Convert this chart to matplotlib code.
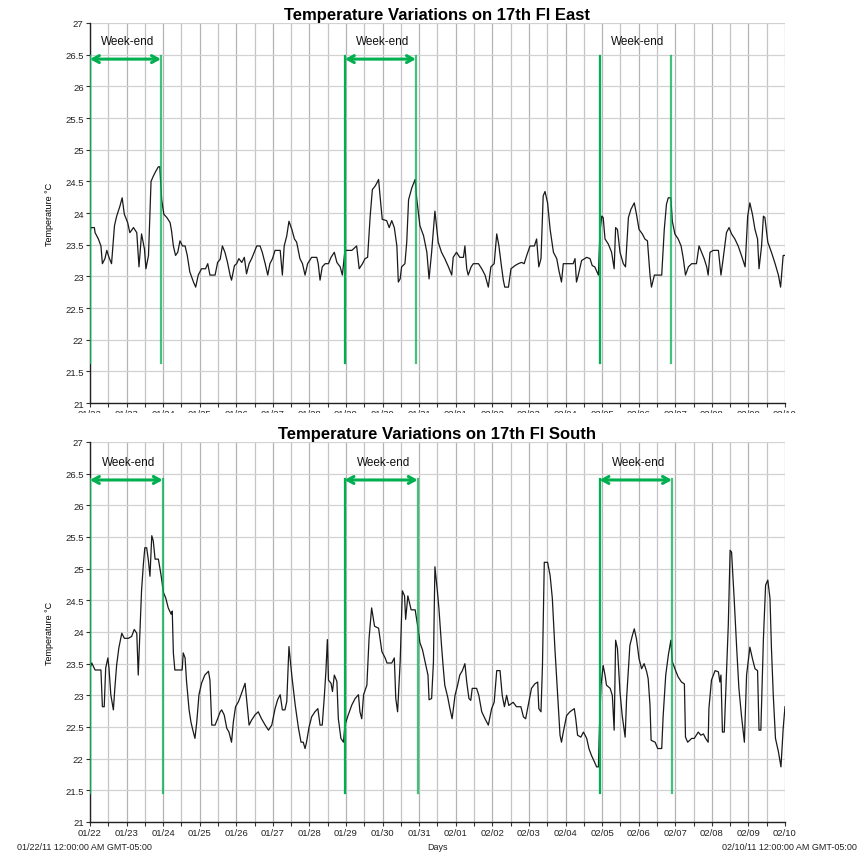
import matplotlib
matplotlib.use("Agg")
import matplotlib.pyplot as plt
from matplotlib.patches import Rectangle
from matplotlib.ticker import MultipleLocator

plt.rcParams['font.family'] = ['Liberation Sans', 'DejaVu Sans']

# ---- data -----------------------------------------------------------------
day_labels = ['01/22', '01/23', '01/24', '01/25', '01/26', '01/27', '01/28',
              '01/29', '01/30', '01/31', '02/01', '02/02', '02/03', '02/04',
              '02/05', '02/06', '02/07', '02/08', '02/09', '02/10']

# days elapsed since 01/22 00:00 and readings in degrees C, 17th floor east
east_days = [
    0.00, 0.02, 0.12, 0.14, 0.23, 0.30, 0.34, 0.41, 0.46, 0.52, 0.59, 0.67, 0.73, 0.82, 0.88, 0.94,
    1.03, 1.09, 1.19, 1.28, 1.34, 1.41, 1.49, 1.53, 1.60, 1.67, 1.73, 1.80, 1.87, 1.91, 1.96, 2.02,
    2.10, 2.19, 2.23, 2.28, 2.34, 2.40, 2.46, 2.53, 2.60, 2.66, 2.73, 2.83, 2.89, 2.96, 3.05, 3.16,
    3.22, 3.28, 3.42, 3.49, 3.56, 3.62, 3.69, 3.76, 3.83, 3.87, 3.95, 4.01, 4.07, 4.15, 4.22, 4.28,
    4.35, 4.42, 4.49, 4.56, 4.65, 4.71, 4.79, 4.86, 4.92, 4.99, 5.06, 5.20, 5.26, 5.31, 5.38, 5.44,
    5.52, 5.59, 5.65, 5.74, 5.81, 5.88, 5.95, 6.06, 6.20, 6.24, 6.29, 6.35, 6.43, 6.52, 6.59, 6.68,
    6.75, 6.84, 6.90, 6.97, 7.16, 7.29, 7.36, 7.45, 7.52, 7.59, 7.66, 7.72, 7.79, 7.84, 7.89, 7.93,
    7.99, 8.11, 8.18, 8.25, 8.32, 8.39, 8.43, 8.48, 8.52, 8.61, 8.66, 8.71, 8.80, 8.89, 8.93, 9.02,
    9.12, 9.21, 9.27, 9.34, 9.43, 9.52, 9.61, 9.70, 9.80, 9.89, 9.93, 10.02, 10.11, 10.21, 10.25, 10.30,
    10.34, 10.42, 10.48, 10.62, 10.71, 10.80, 10.89, 10.96, 11.05, 11.12, 11.18, 11.24, 11.30, 11.34, 11.44, 11.51,
    11.62, 11.71, 11.80, 11.87, 11.94, 12.03, 12.15, 12.21, 12.27, 12.33, 12.39, 12.44, 12.51, 12.58, 12.67, 12.76,
    12.82, 12.89, 12.94, 13.08, 13.21, 13.26, 13.30, 13.35, 13.44, 13.58, 13.67, 13.73, 13.80, 13.90, 13.94, 13.99,
    14.03, 14.08, 14.17, 14.26, 14.33, 14.37, 14.42, 14.49, 14.58, 14.64, 14.72, 14.79, 14.88, 14.94, 15.01, 15.10,
    15.17, 15.24, 15.31, 15.35, 15.43, 15.63, 15.70, 15.76, 15.81, 15.88, 15.92, 15.99, 16.08, 16.16, 16.22, 16.28,
    16.36, 16.45, 16.58, 16.65, 16.72, 16.79, 16.86, 16.90, 16.95, 17.04, 17.18, 17.25, 17.31, 17.40, 17.47, 17.54,
    17.63, 17.72, 17.81, 17.91, 17.98, 18.04, 18.11, 18.18, 18.25, 18.29, 18.36, 18.41, 18.45, 18.53, 18.63, 18.73,
    18.82, 18.88, 18.95, 19.00]
east_temps = [
    23.65, 23.77, 23.77, 23.69, 23.59, 23.48, 23.20, 23.28, 23.41, 23.30, 23.20, 23.80, 23.95, 24.11, 24.24, 23.98,
    23.85, 23.69, 23.77, 23.69, 23.15, 23.67, 23.43, 23.12, 23.33, 24.50, 24.58, 24.66, 24.73, 24.73, 24.21, 23.98,
    23.93, 23.85, 23.72, 23.48, 23.33, 23.38, 23.56, 23.48, 23.48, 23.33, 23.07, 22.91, 22.83, 23.02, 23.12, 23.12,
    23.20, 23.02, 23.02, 23.22, 23.27, 23.48, 23.38, 23.22, 23.02, 22.94, 23.17, 23.20, 23.28, 23.22, 23.30, 23.04,
    23.20, 23.28, 23.38, 23.48, 23.48, 23.38, 23.20, 23.02, 23.20, 23.28, 23.41, 23.41, 23.02, 23.48, 23.64, 23.87,
    23.74, 23.59, 23.54, 23.28, 23.20, 23.02, 23.20, 23.30, 23.30, 23.20, 22.94, 23.15, 23.20, 23.20, 23.30, 23.38,
    23.22, 23.15, 23.02, 23.41, 23.41, 23.48, 23.12, 23.20, 23.28, 23.30, 23.95, 24.37, 24.42, 24.47, 24.53, 24.27,
    23.90, 23.88, 23.77, 23.88, 23.77, 23.48, 22.91, 22.96, 23.15, 23.20, 23.54, 24.21, 24.40, 24.53, 24.24, 23.80,
    23.64, 23.38, 22.96, 23.38, 24.03, 23.54, 23.38, 23.28, 23.15, 23.02, 23.30, 23.38, 23.30, 23.30, 23.48, 23.12,
    23.02, 23.15, 23.20, 23.20, 23.12, 23.02, 22.83, 23.15, 23.20, 23.67, 23.48, 23.20, 22.94, 22.83, 22.83, 23.12,
    23.17, 23.20, 23.22, 23.20, 23.33, 23.48, 23.48, 23.59, 23.15, 23.28, 24.27, 24.34, 24.16, 23.74, 23.38, 23.28,
    23.09, 22.91, 23.20, 23.20, 23.20, 23.28, 22.91, 23.02, 23.25, 23.30, 23.28, 23.17, 23.15, 23.02, 23.69, 23.95,
    23.93, 23.59, 23.51, 23.38, 23.12, 23.77, 23.74, 23.38, 23.20, 23.15, 23.93, 24.06, 24.16, 23.98, 23.74, 23.67,
    23.59, 23.56, 23.02, 22.83, 23.02, 23.02, 23.74, 24.14, 24.24, 24.24, 23.87, 23.67, 23.59, 23.48, 23.28, 23.02,
    23.15, 23.20, 23.20, 23.48, 23.38, 23.28, 23.15, 23.02, 23.38, 23.41, 23.41, 23.02, 23.28, 23.69, 23.77, 23.67,
    23.59, 23.48, 23.33, 23.15, 23.95, 24.16, 23.98, 23.74, 23.59, 23.12, 23.48, 23.95, 23.93, 23.54, 23.38, 23.20,
    23.02, 22.83, 23.33, 23.33]

# days elapsed since 01/22 00:00 and readings in degrees C, 17th floor south
south_days = [
    0.00, 0.05, 0.14, 0.30, 0.34, 0.39, 0.43, 0.49, 0.52, 0.57, 0.64, 0.68, 0.73, 0.79, 0.87, 0.94,
    1.05, 1.14, 1.21, 1.28, 1.32, 1.37, 1.41, 1.46, 1.50, 1.55, 1.60, 1.64, 1.69, 1.73, 1.78, 1.87,
    1.94, 2.01, 2.07, 2.14, 2.22, 2.25, 2.28, 2.32, 2.46, 2.52, 2.55, 2.60, 2.64, 2.71, 2.76, 2.80,
    2.87, 2.92, 2.98, 3.05, 3.14, 3.24, 3.28, 3.33, 3.42, 3.49, 3.56, 3.60, 3.67, 3.74, 3.80, 3.87,
    3.92, 3.98, 4.06, 4.13, 4.19, 4.24, 4.28, 4.35, 4.42, 4.51, 4.60, 4.69, 4.79, 4.88, 4.97, 5.06,
    5.13, 5.20, 5.26, 5.33, 5.38, 5.44, 5.52, 5.61, 5.70, 5.77, 5.83, 5.88, 5.92, 5.99, 6.06, 6.15,
    6.23, 6.29, 6.35, 6.41, 6.45, 6.49, 6.52, 6.59, 6.63, 6.68, 6.75, 6.79, 6.86, 6.93, 6.97, 7.06,
    7.16, 7.25, 7.34, 7.38, 7.43, 7.48, 7.57, 7.63, 7.70, 7.78, 7.89, 7.98, 8.07, 8.12, 8.25, 8.32,
    8.36, 8.41, 8.48, 8.54, 8.60, 8.63, 8.69, 8.78, 8.89, 8.96, 9.02, 9.09, 9.16, 9.24, 9.27, 9.34,
    9.39, 9.43, 9.50, 9.54, 9.61, 9.66, 9.70, 9.78, 9.84, 9.90, 9.98, 10.05, 10.11, 10.18, 10.25, 10.30,
    10.36, 10.41, 10.45, 10.57, 10.63, 10.71, 10.80, 10.89, 10.98, 11.05, 11.12, 11.21, 11.27, 11.33, 11.39, 11.45,
    11.57, 11.66, 11.78, 11.85, 11.91, 11.98, 12.07, 12.16, 12.24, 12.27, 12.33, 12.37, 12.42, 12.51, 12.58, 12.64,
    12.71, 12.78, 12.85, 12.89, 12.94, 13.03, 13.12, 13.24, 13.28, 13.33, 13.42, 13.49, 13.58, 13.64, 13.71, 13.79,
    13.85, 13.90, 13.93, 13.97, 14.03, 14.08, 14.12, 14.22, 14.28, 14.33, 14.37, 14.42, 14.49, 14.55, 14.63, 14.67,
    14.76, 14.83, 14.88, 14.94, 15.01, 15.08, 15.15, 15.22, 15.26, 15.31, 15.34, 15.45, 15.52, 15.63, 15.67, 15.74,
    15.81, 15.88, 15.92, 16.01, 16.08, 16.17, 16.25, 16.28, 16.34, 16.45, 16.52, 16.63, 16.70, 16.77, 16.83, 16.90,
    16.92, 16.99, 17.09, 17.18, 17.22, 17.25, 17.29, 17.34, 17.40, 17.45, 17.50, 17.54, 17.61, 17.68, 17.74, 17.81,
    17.89, 17.95, 18.04, 18.11, 18.18, 18.25, 18.29, 18.34, 18.41, 18.47, 18.53, 18.59, 18.63, 18.68, 18.74, 18.82,
    18.89, 18.95, 19.00]
south_temps = [
    23.43, 23.51, 23.40, 23.40, 22.82, 22.82, 23.43, 23.59, 23.43, 23.01, 22.77, 23.11, 23.48, 23.75, 23.98, 23.90,
    23.90, 23.93, 24.04, 23.98, 23.32, 24.06, 24.65, 25.07, 25.33, 25.33, 25.12, 24.88, 25.52, 25.44, 25.15, 25.15,
    24.91, 24.62, 24.54, 24.38, 24.28, 24.33, 23.67, 23.40, 23.40, 23.40, 23.67, 23.59, 23.22, 22.77, 22.58, 22.48,
    22.32, 22.58, 23.01, 23.19, 23.32, 23.38, 23.24, 22.53, 22.53, 22.63, 22.74, 22.77, 22.69, 22.48, 22.42, 22.26,
    22.58, 22.82, 22.90, 23.01, 23.11, 23.19, 22.95, 22.53, 22.61, 22.69, 22.74, 22.63, 22.53, 22.45, 22.53, 22.79,
    22.93, 23.01, 22.77, 22.77, 22.90, 23.77, 23.30, 22.85, 22.48, 22.26, 22.26, 22.16, 22.26, 22.50, 22.66, 22.74,
    22.79, 22.53, 22.53, 23.01, 23.38, 23.88, 23.24, 23.19, 23.06, 23.32, 23.22, 22.63, 22.32, 22.26, 22.53, 22.69,
    22.85, 22.95, 23.01, 22.74, 22.63, 23.01, 23.16, 23.90, 24.38, 24.09, 24.06, 23.69, 23.59, 23.51, 23.51, 23.59,
    22.95, 22.74, 23.53, 24.65, 24.57, 24.20, 24.57, 24.35, 24.35, 24.09, 23.83, 23.72, 23.53, 23.32, 22.93, 22.95,
    23.53, 25.03, 24.63, 24.37, 23.79, 23.42, 23.16, 22.97, 22.79, 22.63, 23.00, 23.16, 23.32, 23.39, 23.50, 23.21,
    22.95, 22.92, 23.11, 23.11, 23.00, 22.74, 22.63, 22.53, 22.79, 22.89, 23.39, 23.39, 23.00, 22.82, 23.00, 22.84,
    22.89, 22.82, 22.82, 22.66, 22.63, 22.84, 23.11, 23.18, 23.21, 22.79, 22.74, 23.47, 25.10, 25.10, 24.89, 24.53,
    23.74, 23.05, 22.37, 22.26, 22.42, 22.68, 22.74, 22.79, 22.63, 22.37, 22.34, 22.42, 22.32, 22.16, 22.05, 21.95,
    21.87, 21.87, 22.53, 23.16, 23.47, 23.32, 23.16, 23.11, 23.00, 22.45, 23.87, 23.74, 23.05, 22.68, 22.34, 22.95,
    23.79, 23.95, 24.05, 23.89, 23.58, 23.42, 23.50, 23.37, 23.26, 22.84, 22.29, 22.26, 22.16, 22.16, 22.68, 23.32,
    23.63, 23.87, 23.53, 23.39, 23.29, 23.21, 23.18, 22.34, 22.26, 22.32, 22.32, 22.42, 22.37, 22.39, 22.32, 22.26,
    22.79, 23.24, 23.39, 23.37, 23.21, 23.32, 22.42, 22.42, 23.32, 24.11, 25.29, 25.26, 24.53, 23.74, 23.11, 22.68,
    22.26, 23.32, 23.76, 23.58, 23.42, 23.39, 22.45, 22.45, 23.89, 24.74, 24.82, 24.53, 23.74, 23.00, 22.32, 22.11,
    21.87, 22.47, 22.82]

# week-end spans (start, end) in days since 01/22
east_weekends = [(0.0, 1.94), (6.97, 8.91), (13.94, 15.88)]
south_weekends = [(0.0, 1.99), (6.96, 8.96), (13.93, 15.91)]

GREEN = '#00b050'

fig = plt.figure(figsize=(8.65, 8.54), dpi=100)
ax_east = fig.add_axes([0.1040, 0.5269, 0.8035, 0.4450])
ax_south = fig.add_axes([0.1040, 0.0363, 0.8035, 0.4450])


def style_axes(ax, title):
    ax.set_xlim(0, len(day_labels) - 1)
    ax.set_ylim(21, 27)
    ax.set_xticks(range(len(day_labels)))
    ax.set_xticklabels(day_labels)
    ax.xaxis.set_minor_locator(MultipleLocator(0.5))
    ax.yaxis.set_major_locator(MultipleLocator(0.5))
    ax.yaxis.set_major_formatter(matplotlib.ticker.FuncFormatter(
        lambda v, p: ('%g' % v)))
    ax.tick_params(axis='both', which='both', labelsize=6.8, length=3,
                   width=0.8, pad=1.5, color='#333333', labelcolor='#222222')
    ax.grid(True, axis='x', which='major', color='#b4b4b4', lw=0.9)
    ax.grid(True, axis='x', which='minor', color='#c4c4c4', lw=0.9)
    ax.grid(True, axis='y', which='major', color='#d2d2d2', lw=0.9)
    ax.set_axisbelow(True)
    for side in ('top', 'right'):
        ax.spines[side].set_visible(False)
    for side in ('left', 'bottom'):
        ax.spines[side].set_color('#222222')
        ax.spines[side].set_linewidth(1.0)
    ax.set_ylabel('Temperature \u00b0C', fontsize=6.5, labelpad=8)
    ax.set_title(title, fontsize=12, fontweight='bold', pad=3)


def draw_weekends(ax, spans, top, bottom, arrow_y, text_y, arrows):
    for (x0, x1), with_arrow in zip(spans, arrows):
        ax.plot([x0, x0], [bottom, top], color=GREEN, lw=1.6, zorder=3)
        ax.plot([x1, x1], [bottom, top], color=GREEN, lw=1.6, zorder=3,
                alpha=0.75)
        if with_arrow:
            ax.annotate('', xy=(x1, arrow_y), xytext=(x0, arrow_y),
                        arrowprops=dict(arrowstyle='<->,head_length=0.45,head_width=0.25',
                                        color=GREEN, lw=2.2,
                                        shrinkA=0, shrinkB=0), zorder=4)
        ax.text((x0 + x1) / 2 + 0.07, text_y, 'Week-end', ha='center',
                va='center', fontsize=8.5, color='#111111')


style_axes(ax_east, 'Temperature Variations on 17th Fl East')
ax_east.plot(east_days, east_temps, color='#1a1a1a', lw=0.9, zorder=2)
draw_weekends(ax_east, east_weekends, 26.48, 21.63, 26.43, 26.72,
              [True, True, False])

style_axes(ax_south, 'Temperature Variations on 17th Fl South')
ax_south.plot(south_days, south_temps, color='#1a1a1a', lw=0.9, zorder=2)
draw_weekends(ax_south, south_weekends, 26.42, 21.45, 26.40, 26.68,
              [True, True, True])

# the upper panel's date labels are clipped by the lower panel's frame
fig.add_artist(Rectangle((0, 1 - 428 / 854), 1, 14 / 854,
                         transform=fig.transFigure, facecolor='white',
                         edgecolor='none', zorder=10))

fig.text(0.0197, 0.0075, '01/22/11 12:00:00 AM GMT-05:00', fontsize=6.5,
         ha='left', va='center', color='#222222')
fig.text(0.5055, 0.0075, 'Days', fontsize=6.5, ha='center', va='center',
         color='#222222')
fig.text(0.991, 0.0075, '02/10/11 12:00:00 AM GMT-05:00', fontsize=6.5,
         ha='right', va='center', color='#222222')

fig.savefig('out.png', dpi=100, facecolor='white')
